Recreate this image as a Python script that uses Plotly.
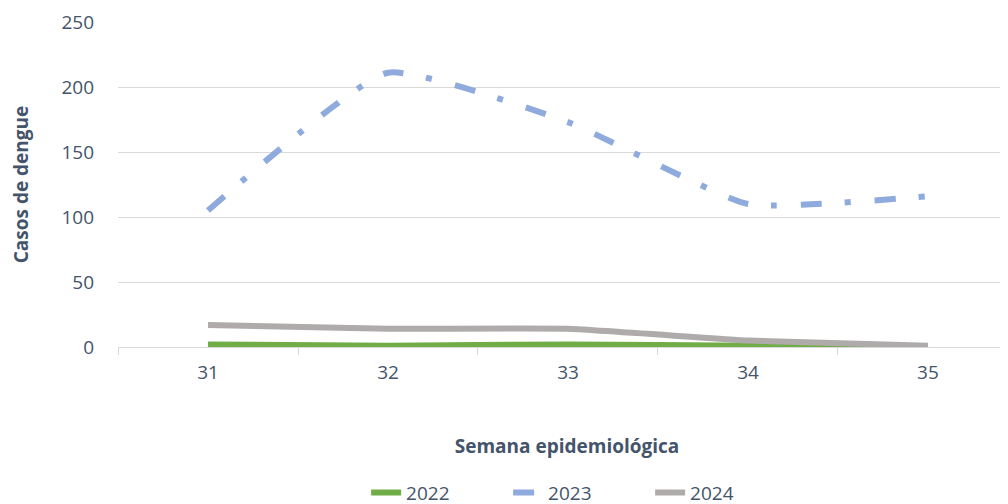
import plotly.graph_objects as go

weeks = ["31", "32", "33", "34", "35"]
cases_2022 = [2, 1, 2, 1, 0]
cases_2023 = [105, 211, 173, 110, 116]
cases_2024 = [17, 14, 14, 5, 1]

text_color = "#44546A"
font_family = "Open Sans, Liberation Sans, sans-serif"

fig = go.Figure()
fig.add_trace(go.Scatter(x=weeks, y=cases_2022, name="2022", mode="lines",
                         line=dict(color="#70AD47", width=6, shape="spline", smoothing=0.6)))
fig.add_trace(go.Scatter(x=weeks, y=cases_2023, name="2023", mode="lines",
                         line=dict(color="#8FAADC", width=6, dash="21px,23px,6px,24px",
                                   shape="spline", smoothing=0.45)))
fig.add_trace(go.Scatter(x=weeks, y=cases_2024, name="2024", mode="lines",
                         line=dict(color="#AFABAB", width=6, shape="spline", smoothing=0.3)))

fig.update_layout(
    width=1008, height=504,
    margin=dict(l=110, r=0, t=14, b=160),
    paper_bgcolor="white", plot_bgcolor="white",
    font=dict(family=font_family, color=text_color, size=19),
    showlegend=True,
    legend=dict(orientation="h", x=0.5135, xanchor="center", y=-0.39, yanchor="top",
                font=dict(size=19, color=text_color), entrywidth=97, entrywidthmode="pixels",
                traceorder="normal"),
    xaxis=dict(
        type="category", range=[-0.5, 4.489],
        tickson="boundaries", ticks="outside", ticklen=7, tickcolor="#D9D9D9",
        showgrid=False, showline=False, zeroline=False, ticklabelstandoff=12,
        tickfont=dict(size=19, color=text_color),
        title=dict(text="<b>Semana epidemiológica</b>", font=dict(size=19, color=text_color), standoff=55),
    ),
    yaxis=dict(
        range=[0, 250], tickvals=[0, 50, 100, 150, 200, 250],
        showgrid=True, gridcolor="#D9D9D9", gridwidth=1,
        zeroline=True, zerolinecolor="#D9D9D9", zerolinewidth=1,
        showline=False, ticks="", ticklabelstandoff=23,
        tickfont=dict(size=19, color=text_color),
        title=dict(text="<b>Casos de dengue</b>", font=dict(size=19, color=text_color), standoff=33),
    ),
)

fig.write_html("out.html")
